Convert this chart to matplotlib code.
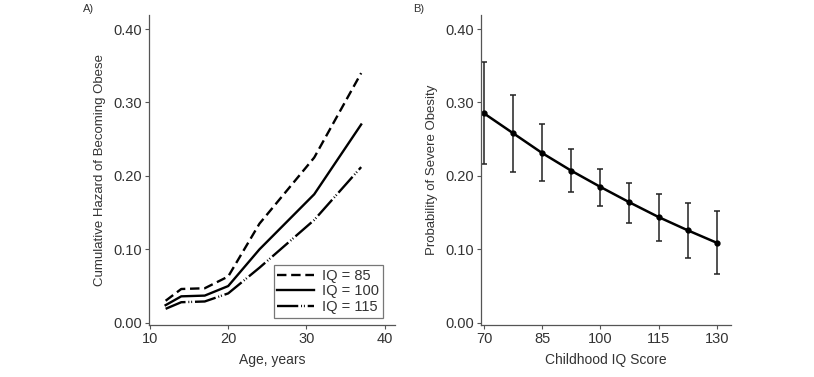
import numpy as np
import matplotlib.pyplot as plt

plt.rcParams['font.family'] = ['Liberation Sans', 'DejaVu Sans']

# Panel A: cumulative hazard by age
ages = [12, 14, 17, 20, 24, 31, 37]
haz_85 = [0.030, 0.046, 0.047, 0.063, 0.135, 0.225, 0.340]
haz_100 = [0.024, 0.036, 0.037, 0.050, 0.100, 0.175, 0.270]
haz_115 = [0.019, 0.028, 0.029, 0.040, 0.075, 0.140, 0.212]

# Panel B: probability of severe obesity by IQ
iq = [70, 77.5, 85, 92.5, 100, 107.5, 115, 122.5, 130]
prob = [0.285, 0.258, 0.231, 0.207, 0.185, 0.164, 0.144, 0.126, 0.109]
prob_hi = [0.355, 0.310, 0.271, 0.236, 0.210, 0.191, 0.176, 0.163, 0.152]
prob_lo = [0.216, 0.205, 0.193, 0.178, 0.159, 0.136, 0.111, 0.088, 0.067]

txt = '#333333'
fig = plt.figure(figsize=(8.14, 3.77), dpi=100)
axA = fig.add_axes([0.183, 0.138, 0.302, 0.822])
axB = fig.add_axes([0.591, 0.138, 0.307, 0.822])


def style(ax):
    for s in ['top', 'right']:
        ax.spines[s].set_visible(False)
    for s in ['left', 'bottom']:
        ax.spines[s].set_color('#555555')
        ax.spines[s].set_linewidth(0.9)
    ax.tick_params(direction='out', length=3, width=0.8, color='#555555',
                   labelsize=10.5, labelcolor=txt, pad=2)
    ax.set_ylim(-0.003, 0.419)
    ax.set_yticks([0, 0.1, 0.2, 0.3, 0.4])
    ax.set_yticklabels(['0.00', '0.10', '0.20', '0.30', '0.40'])


style(axA)
axA.plot(ages, haz_85, color='black', lw=1.7, dashes=(4, 2), label='IQ = 85')
axA.plot(ages, haz_100, color='black', lw=1.7, label='IQ = 100')
axA.plot(ages, haz_115, color='black', lw=1.7, dashes=(9, 1.2, 0.4, 0.8, 0.4, 1.2),
         label='IQ = 115')
axA.set_xlim(9.87, 41.3)
axA.set_xticks([10, 20, 30, 40])
axA.set_xlabel('Age, years', fontsize=10, color=txt, labelpad=5)
axA.set_ylabel('Cumulative Hazard of Becoming Obese', fontsize=9.5, color=txt, labelpad=5)
leg = axA.legend(loc='lower right', fontsize=10.5, frameon=True, fancybox=False,
                 handlelength=2.5, handletextpad=0.6, borderpad=0.25,
                 labelspacing=0.1, borderaxespad=0.3,
                 bbox_to_anchor=(0.97, 0.01))
leg.get_frame().set_edgecolor('#555555')
leg.get_frame().set_linewidth(0.9)
for t in leg.get_texts():
    t.set_color(txt)

style(axB)
yerr = [np.array(prob) - np.array(prob_lo), np.array(prob_hi) - np.array(prob)]
axB.errorbar(iq, prob, yerr=yerr, color='black', lw=1.8, marker='o', ms=3.5,
             ecolor='#222222', elinewidth=1.1, capsize=2.5, capthick=1.1)
axB.set_xlim(69.2, 133.7)
axB.set_xticks([70, 85, 100, 115, 130])
axB.set_xlabel('Childhood IQ Score', fontsize=10, color=txt, labelpad=5)
axB.set_ylabel('Probability of Severe Obesity', fontsize=9.5, color=txt, labelpad=5)

fig.text(83 / 814, 1 - 9 / 377, 'A)', fontsize=8, color=txt, va='center')
fig.text(413 / 814, 1 - 9 / 377, 'B)', fontsize=8, color=txt, va='center')

fig.savefig('out.png', dpi=100)
